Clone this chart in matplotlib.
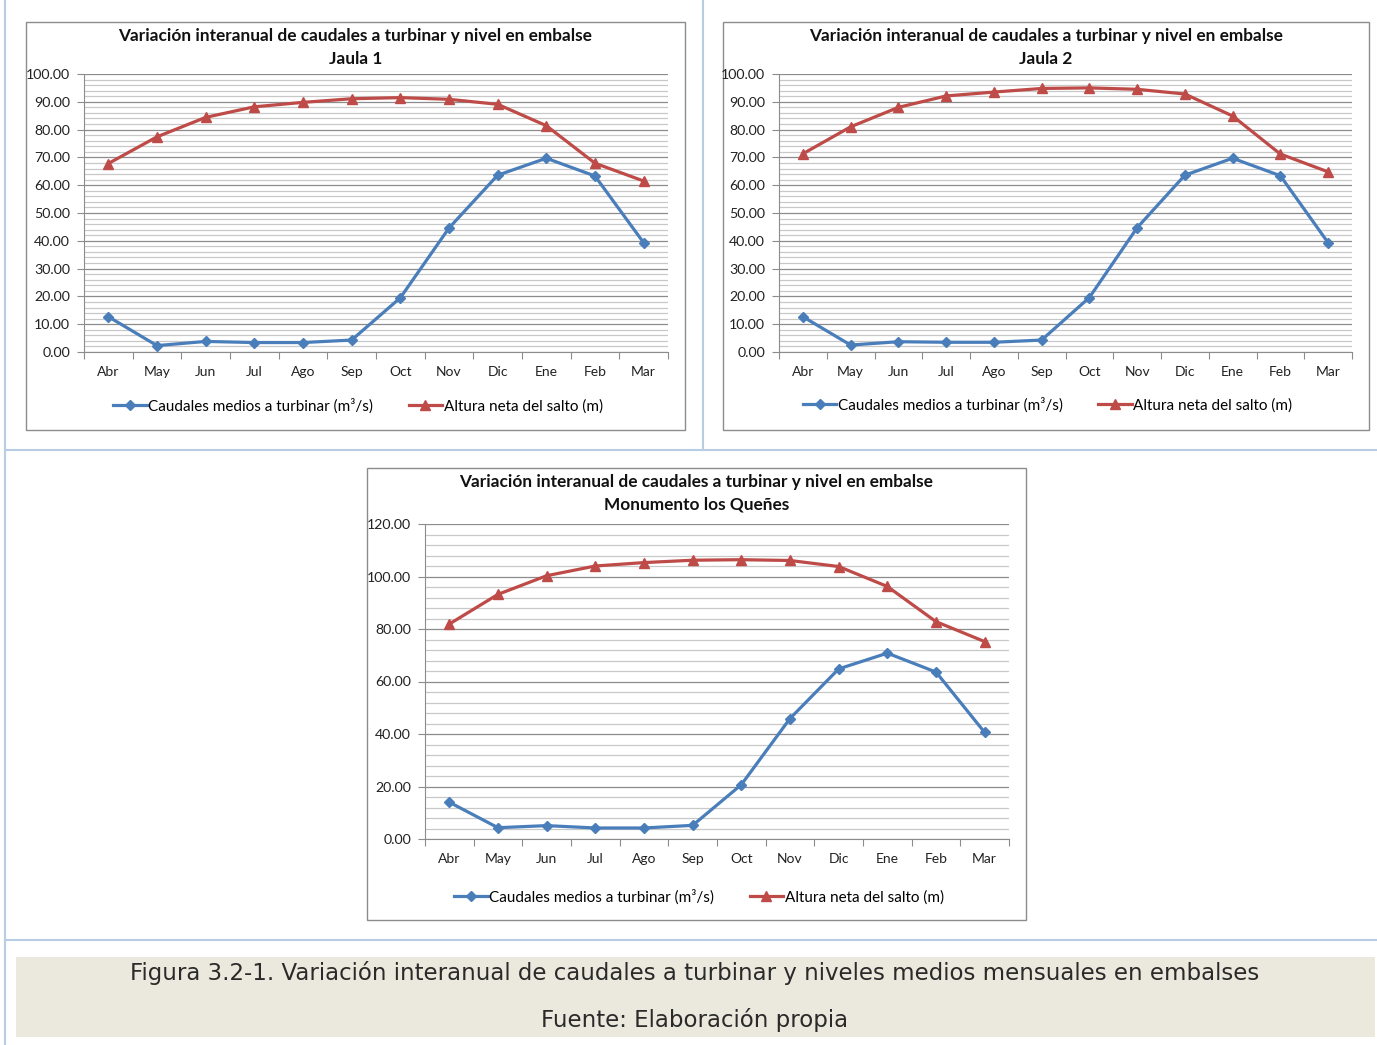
import matplotlib
matplotlib.use("Agg")
import matplotlib.pyplot as plt
from matplotlib.patches import Rectangle
from matplotlib.lines import Line2D
from matplotlib.ticker import MultipleLocator, FixedLocator, NullFormatter, FixedFormatter
import numpy as np

plt.rcParams['font.family'] = ['Lato', 'DejaVu Sans']

months = ["Abr", "May", "Jun", "Jul", "Ago", "Sep", "Oct", "Nov", "Dic", "Ene", "Feb", "Mar"]

caudal_jaula1 = [12.7, 2.3, 3.8, 3.4, 3.4, 4.3, 19.5, 44.6, 63.6, 69.7, 63.3, 39.3]
altura_jaula1 = [67.8, 77.4, 84.4, 88.2, 89.8, 91.1, 91.5, 90.9, 89.1, 81.4, 67.9, 61.5]

caudal_jaula2 = [12.7, 2.5, 3.7, 3.5, 3.5, 4.3, 19.6, 44.7, 63.6, 69.7, 63.4, 39.3]
altura_jaula2 = [71.3, 81.0, 88.0, 92.1, 93.5, 94.8, 95.0, 94.5, 92.8, 84.9, 71.2, 64.8]

caudal_queñes = [14.0, 4.3, 5.1, 4.2, 4.2, 5.2, 20.7, 45.9, 64.8, 70.8, 63.6, 40.6]
altura_queñes = [81.9, 93.2, 100.3, 104.0, 105.3, 106.2, 106.4, 106.1, 103.8, 96.2, 82.8, 75.2]

title_main = "Variación interanual de caudales a turbinar y nivel en embalse"
subtitles = ["Jaula 1", "Jaula 2", "Monumento los Queñes"]
legend_labels = ["Caudales medios a turbinar (m³/s)", "Altura neta del salto (m)"]
caption1 = "Figura 3.2-1. Variación interanual de caudales a turbinar y niveles medios mensuales en embalses"
caption2 = "Fuente: Elaboración propia"

W, H = 1377, 1045
fig = plt.figure(figsize=(W / 100, H / 100), dpi=100)

BLUE = "#4a7ebb"
RED = "#be4b48"
FRAME = "#b8cce4"


def px_axes(x0, y0, x1, y1, **kw):
    return fig.add_axes([x0 / W, 1 - y1 / H, (x1 - x0) / W, (y1 - y0) / H], **kw)


# overlay for decorations
ov = px_axes(0, 0, W, H, zorder=0)
ov.set_xlim(0, W)
ov.set_ylim(H, 0)
ov.axis("off")

# frame lines
ov.plot([5, 5], [0, H], color=FRAME, lw=1.5)
ov.plot([703, 703], [0, 450], color=FRAME, lw=1.5)
ov.plot([5, W], [450, 450], color=FRAME, lw=1.5)
ov.plot([5, W], [940, 940], color=FRAME, lw=1.5)

# caption background
ov.add_patch(Rectangle((16, 957), 1359, 80, facecolor="#ebe9dd", edgecolor="none"))
ov.text(695, 973, caption1, ha="center", va="center", fontsize=16.5, color="#2a2a2a",
        family=["DejaVu Sans"])
ov.text(695, 1020, caption2, ha="center", va="center", fontsize=16.5, color="#2a2a2a",
        family=["DejaVu Sans"])

charts = [
    dict(box=(26, 22, 685, 430), plot=(84, 74, 668, 352), caud=caudal_jaula1, alt=altura_jaula1,
         ymax=100, major=10, minor=2, sub=subtitles[0], leg_y=406),
    dict(box=(723, 22, 1369, 430), plot=(779, 74, 1352, 352), caud=caudal_jaula2, alt=altura_jaula2,
         ymax=100, major=10, minor=2, sub=subtitles[1], leg_y=405),
    dict(box=(367, 468, 1026, 920), plot=(425, 524, 1009, 839), caud=caudal_queñes, alt=altura_queñes,
         ymax=120, major=20, minor=4, sub=subtitles[2], leg_y=897),
]

x = np.arange(len(months))

for c in charts:
    bx0, by0, bx1, by1 = c["box"]
    ov.add_patch(Rectangle((bx0, by0), bx1 - bx0, by1 - by0, facecolor="white",
                           edgecolor="#8c8c8c", lw=1.0))
    cx = (bx0 + bx1) / 2
    ov.text(cx, by0 + 14, title_main, ha="center", va="center", fontsize=12.4,
            fontweight="bold", color="#111111")
    ov.text(cx, by0 + 37, c["sub"], ha="center", va="center", fontsize=12.4,
            fontweight="bold", color="#111111")

    ax = px_axes(*c["plot"], zorder=2)
    ax.set_facecolor("none")
    ax.plot(x, c["caud"], color=BLUE, lw=2.3, marker="D", ms=5.5, zorder=3,
            label=legend_labels[0])
    ax.plot(x, c["alt"], color=RED, lw=2.3, marker="^", ms=7, zorder=3,
            label=legend_labels[1])
    ax.set_xlim(-0.5, len(months) - 0.5)
    ax.set_ylim(0, c["ymax"])

    ax.yaxis.set_major_locator(MultipleLocator(c["major"]))
    ax.yaxis.set_minor_locator(MultipleLocator(c["minor"]))
    ax.yaxis.set_major_formatter(matplotlib.ticker.FormatStrFormatter("%.2f"))
    ax.grid(True, which="major", axis="y", color="#8c8c8c", lw=0.9)
    ax.grid(True, which="minor", axis="y", color="#c8c8c8", lw=0.9)
    ax.set_axisbelow(True)

    ax.xaxis.set_major_locator(FixedLocator(np.arange(-0.5, len(months), 1.0)))
    ax.xaxis.set_major_formatter(NullFormatter())
    ax.xaxis.set_minor_locator(FixedLocator(x))
    ax.xaxis.set_minor_formatter(FixedFormatter(months))
    ax.tick_params(axis="x", which="major", length=5, color="#8c8c8c", direction="out")
    ax.tick_params(axis="x", which="minor", length=0, labelsize=10, pad=10, colors="#222222")
    ax.tick_params(axis="y", which="major", length=5, color="#8c8c8c", labelsize=10.2,
                   labelcolor="#222222", pad=5)
    ax.tick_params(axis="y", which="minor", length=0)
    for s in ["top", "right"]:
        ax.spines[s].set_visible(False)
    ax.spines["left"].set_color("#8c8c8c")
    ax.spines["bottom"].set_color("#8c8c8c")

    handles = [Line2D([], [], color=BLUE, lw=2.3, marker="D", ms=5.5),
               Line2D([], [], color=RED, lw=2.3, marker="^", ms=7)]
    px0, py0, px1, py1 = c["plot"]
    lx = ((px0 + px1) / 2 - 18) / W
    ly = 1 - c["leg_y"] / H
    fig.legend(handles, legend_labels, loc="center", bbox_to_anchor=(lx, ly), ncol=2,
               frameon=False, fontsize=11, handlelength=2.2, handletextpad=0.1,
               columnspacing=2.3, borderaxespad=0)

fig.savefig("out.png", dpi=100)
